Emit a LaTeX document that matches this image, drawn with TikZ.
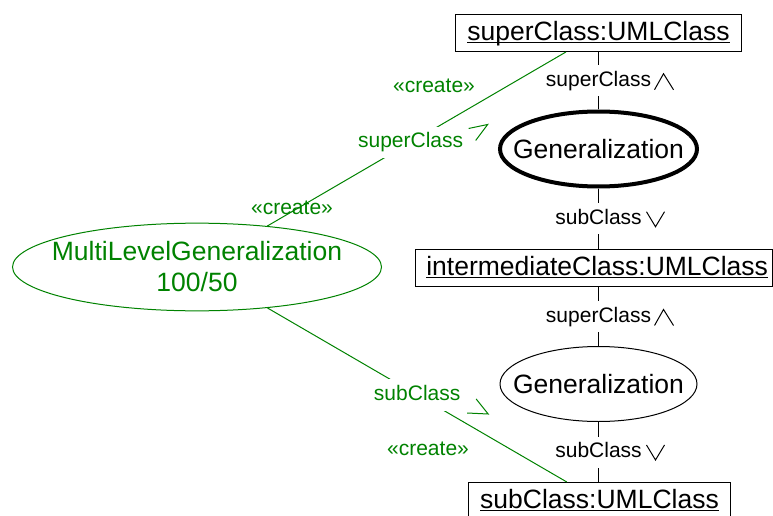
\documentclass[tikz,border=0pt]{standalone}
\usepackage{fontspec}
\setmainfont{Liberation Sans}
\usepackage{xcolor}
\usetikzlibrary{shapes.geometric, calc}

\definecolor{storygreen}{RGB}{0,130,0}
% underline close to the baseline, as in the pattern boxes
\newcommand{\objname}[1]{\setbox0\hbox{#1}\rlap{\rule[-2.5pt]{\wd0}{1pt}}\box0}

\begin{document}
\begin{tikzpicture}[x=1pt, y=-1pt, line width=1pt,
    big/.style={font=\fontsize{26.5}{31}\selectfont},
    small/.style={font=\fontsize{21}{25}\selectfont},
    obj/.style={draw, big, rectangle, text height=20pt, text depth=5pt, inner xsep=12pt, inner ysep=6pt, anchor=north},
    act/.style={draw, big, ellipse, minimum width=197pt, minimum height=75pt, inner sep=0pt},
    role/.style={small, fill=white, text height=15pt, text depth=4pt, inner sep=6pt},
    grole/.style={role, text=storygreen},
    create/.style={small, text=storygreen}]
    \useasboundingbox (0,0) rectangle (773,516);

    % objects of the pattern
    \node[obj] (sup) at (598.5,14) {\objname{superClass:UMLClass}};
    \node[act, line width=4pt] (gen1) at (598.5,149) {\makebox[0pt]{Generalization}};
    \node[obj, inner xsep=4pt, text width=349pt, align=right] (inter) at (593.5,249) {\objname{intermediateClass:UMLClass}};
    \node[act] (gen2) at (598.5,384) {\makebox[0pt]{Generalization}};
    \node[obj] (sub) at (599.5,482) {\objname{subClass:UMLClass}};
    \node[big, ellipse, draw=storygreen, text=storygreen, minimum width=369pt, minimum height=87pt, inner sep=0pt] (mlg) at (197,267)
        {\makebox[0pt]{\raisebox{-3pt}[\height][\depth]{\begin{tabular}{@{}c@{}}MultiLevelGeneralization\\100/50\end{tabular}}}};

    % links
    \draw (sup) -- node[role] (r1) {superClass} (gen1);
    \draw (gen1) -- node[role] (r2) {subClass} (gen1 |- inter.north);
    \draw (gen1 |- inter.south) -- node[role] (r3) {superClass} (gen2);
    \draw (gen2) -- node[role] (r4) {subClass} (gen2 |- sub.north);
    \foreach \r in {r1, r3} {
        \draw ($(\r)+(56,9)$) -- ($(\r)+(65,-7)$) -- ($(\r)+(75,9)$);
    }
    \foreach \r in {r2, r4} {
        \draw ($(\r)+(48,-7)$) -- ($(\r)+(57,8)$) -- ($(\r)+(66,-7)$);
    }

    % created links
    \draw[storygreen] (mlg) -- node[grole, pos=0.48] (gsup) {superClass} (sup);
    \draw[storygreen] (mlg) -- node[grole] (gsub) {subClass} (sub);
    \draw[storygreen] ($(gsup)+(58,-14)$) -- ($(gsup)+(77,-18)$) -- ($(gsup)+(65,-2)$);
    \draw[storygreen] ($(gsub)+(59,4)$) -- ($(gsub)+(71,19)$) -- ($(gsub)+(50,18)$);
    \node[create] (c1) at (434,86) {«create»};
    \node[create] (c2) at (292,208) {«create»};
    \node[create] (c3) at (428,449) {«create»};
\end{tikzpicture}
\end{document}
